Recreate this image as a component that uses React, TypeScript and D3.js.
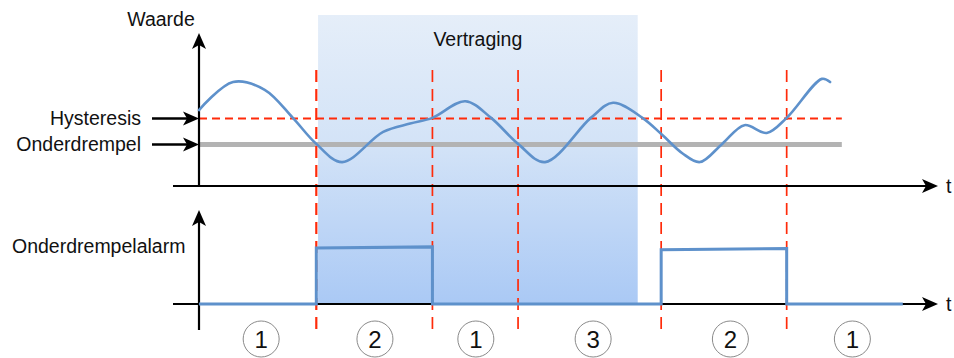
import React from "react";
import * as d3 from "d3";

// ---- data ----
const curveTime = [0, 2.9, 5.6, 8.0, 10.0, 12.2, 15.7, 18.0, 19.9, 22.7, 24.9, 27.2, 29.5, 33.4, 35.3, 37.8, 39.5, 41.2, 42.7, 44.6, 46.5, 48.4, 50.1, 53.1, 53.8];
const curveValue = [14.6, 20.0, 18.5, 13.1, 8.1, 4.6, 10.4, 12.0, 13.1, 16.3, 13.1, 8.1, 4.6, 13.1, 16.0, 13.1, 9.8, 6.3, 4.6, 8.1, 11.7, 10.2, 13.1, 20.6, 20.0];
const threshold = 8;
const hysteresis = 13;
const eventTimes = [10.0, 19.9, 27.2, 39.4, 50.1];
const delayStart = 10.15;
const delayEnd = 37.4;
const alarmTime = [0, 10.0, 10.0, 19.9, 19.9, 39.4, 39.4, 50.1, 50.1, 60.0];
const alarmValue = [0, 0, 1.0, 1.02, 0, 0, 0.97, 0.99, 0, 0];
const stateLabels = ["1", "2", "1", "3", "2", "1"];
const stateCenters = [5.3, 15.0, 23.6, 33.6, 45.3, 55.7];
const labels = {
  value: "Waarde",
  hyst: "Hysteresis",
  thr: "Onderdrempel",
  alarm: "Onderdrempelalarm",
  delay: "Vertraging",
  t: "t",
};

const W = 954;
const H = 358;
const FONT = "'Liberation Sans', Arial, Helvetica, sans-serif";
const FS = 19.5;

export default function App() {
  const x = d3.scaleLinear().domain([0, 63]).range([199, 938]);
  const y = d3.scaleLinear().domain([0, 30]).range([186, 30]);
  const y2 = d3.scaleLinear().domain([0, 1]).range([304, 248]);

  const curveData = curveTime.map((t, i) => [t, curveValue[i]] as [number, number]);
  const line = d3
    .line<[number, number]>()
    .x((d) => x(d[0]))
    .y((d) => y(d[1]))
    .curve(d3.curveCatmullRom.alpha(0.5));

  const alarmData = alarmTime.map((t, i) => [t, alarmValue[i]] as [number, number]);
  const alarmLine = d3
    .line<[number, number]>()
    .x((d) => x(d[0]))
    .y((d) => y2(d[1]));

  const x0 = x(0);
  const axisLeft = 173;
  const axisRight = x(63);

  const arrowRight = (tx: number, ty: number) =>
    `M${tx},${ty} L${tx - 16},${ty - 7} L${tx - 12},${ty} L${tx - 16},${ty + 7} Z`;
  const arrowUp = (tx: number, ty: number) =>
    `M${tx},${ty} L${tx - 7},${ty + 16} L${tx},${ty + 12} L${tx + 7},${ty + 16} Z`;

  const red = "#ff2b0a";
  const blue = "#5e91cb";

  return (
    <svg
      width={W}
      height={H}
      style={{ position: "absolute", left: 0, top: 0, background: "#fff" }}
      fontFamily={FONT}
    >
      <defs>
        <linearGradient id="delayGrad" x1="0" y1="0" x2="0" y2="1">
          <stop offset="0" stopColor="#e5eef9" />
          <stop offset="0.45" stopColor="#d3e3f7" />
          <stop offset="1" stopColor="#aac9f5" />
        </linearGradient>
      </defs>

      {/* delay shaded region */}
      <rect
        x={x(delayStart)}
        y={15}
        width={x(delayEnd) - x(delayStart)}
        height={y2(0) - 15}
        fill="url(#delayGrad)"
      />
      <text x={x((delayStart + delayEnd) / 2)} y={46} textAnchor="middle" fontSize={FS} fill="#111">
        {labels.delay}
      </text>

      {/* threshold (grey) line */}
      <line x1={x0} x2={x(54.8)} y1={y(threshold)} y2={y(threshold)} stroke="#b3b3b3" strokeWidth={5} />
      {/* hysteresis dashed */}
      <line
        x1={x0}
        x2={x(54.8)}
        y1={y(hysteresis)}
        y2={y(hysteresis)}
        stroke={red}
        strokeWidth={2}
        strokeDasharray="8 5"
      />

      {/* event dashed verticals */}
      {eventTimes.map((t, i) => (
        <line
          key={i}
          x1={x(t)}
          x2={x(t)}
          y1={70}
          y2={329}
          stroke={red}
          strokeWidth={i === 0 ? 2.2 : 1.7}
          strokeDasharray="12 7"
        />
      ))}

      {/* axes */}
      <line x1={axisLeft} x2={axisRight - 10} y1={y(0)} y2={y(0)} stroke="#000" strokeWidth={2.2} />
      <path d={arrowRight(axisRight, y(0))} fill="#000" />
      <line x1={axisLeft} x2={axisRight - 10} y1={y2(0)} y2={y2(0)} stroke="#000" strokeWidth={2.2} />
      <path d={arrowRight(axisRight, y2(0))} fill="#000" />
      <line x1={x0} x2={x0} y1={y(0) + 1} y2={y(29.4) + 10} stroke="#000" strokeWidth={2.2} />
      <path d={arrowUp(x0, y(29.4))} fill="#000" />
      <line x1={x0} x2={x0} y1={330} y2={212 + 10} stroke="#000" strokeWidth={2.2} />
      <path d={arrowUp(x0, 210)} fill="#000" />

      <text x={axisRight + 8} y={y(0) + 7} fontSize={FS} fill="#111">{labels.t}</text>
      <text x={axisRight + 8} y={y2(0) + 7} fontSize={FS} fill="#111">{labels.t}</text>

      {/* label arrows */}
      <line x1={152} x2={x0 - 10} y1={y(hysteresis)} y2={y(hysteresis)} stroke="#000" strokeWidth={2.5} />
      <path d={arrowRight(x0, y(hysteresis))} fill="#000" />
      <line x1={152} x2={x0 - 10} y1={y(threshold)} y2={y(threshold)} stroke="#000" strokeWidth={2.5} />
      <path d={arrowRight(x0, y(threshold))} fill="#000" />

      <text x={161} y={26} textAnchor="middle" fontSize={FS} fill="#111">{labels.value}</text>
      <text x={141} y={124.5} textAnchor="end" fontSize={FS} fill="#111">{labels.hyst}</text>
      <text x={141} y={150.5} textAnchor="end" fontSize={FS} fill="#111">{labels.thr}</text>
      <text x={12} y={253} fontSize={FS} fill="#111">{labels.alarm}</text>

      {/* value curve */}
      <path d={line(curveData) || ""} fill="none" stroke={blue} strokeWidth={2.6} strokeLinecap="round" />

      {/* alarm step */}
      <path d={alarmLine(alarmData) || ""} fill="none" stroke={blue} strokeWidth={3} />

      {/* state circles */}
      {stateLabels.map((s, i) => (
        <g key={i} transform={`translate(${x(stateCenters[i])},339)`}>
          <circle r={18} fill="#fff" stroke="#8a8a8a" strokeWidth={1} />
          <text y={8.5} textAnchor="middle" fontSize={24} fill="#111">{s}</text>
        </g>
      ))}
    </svg>
  );
}
